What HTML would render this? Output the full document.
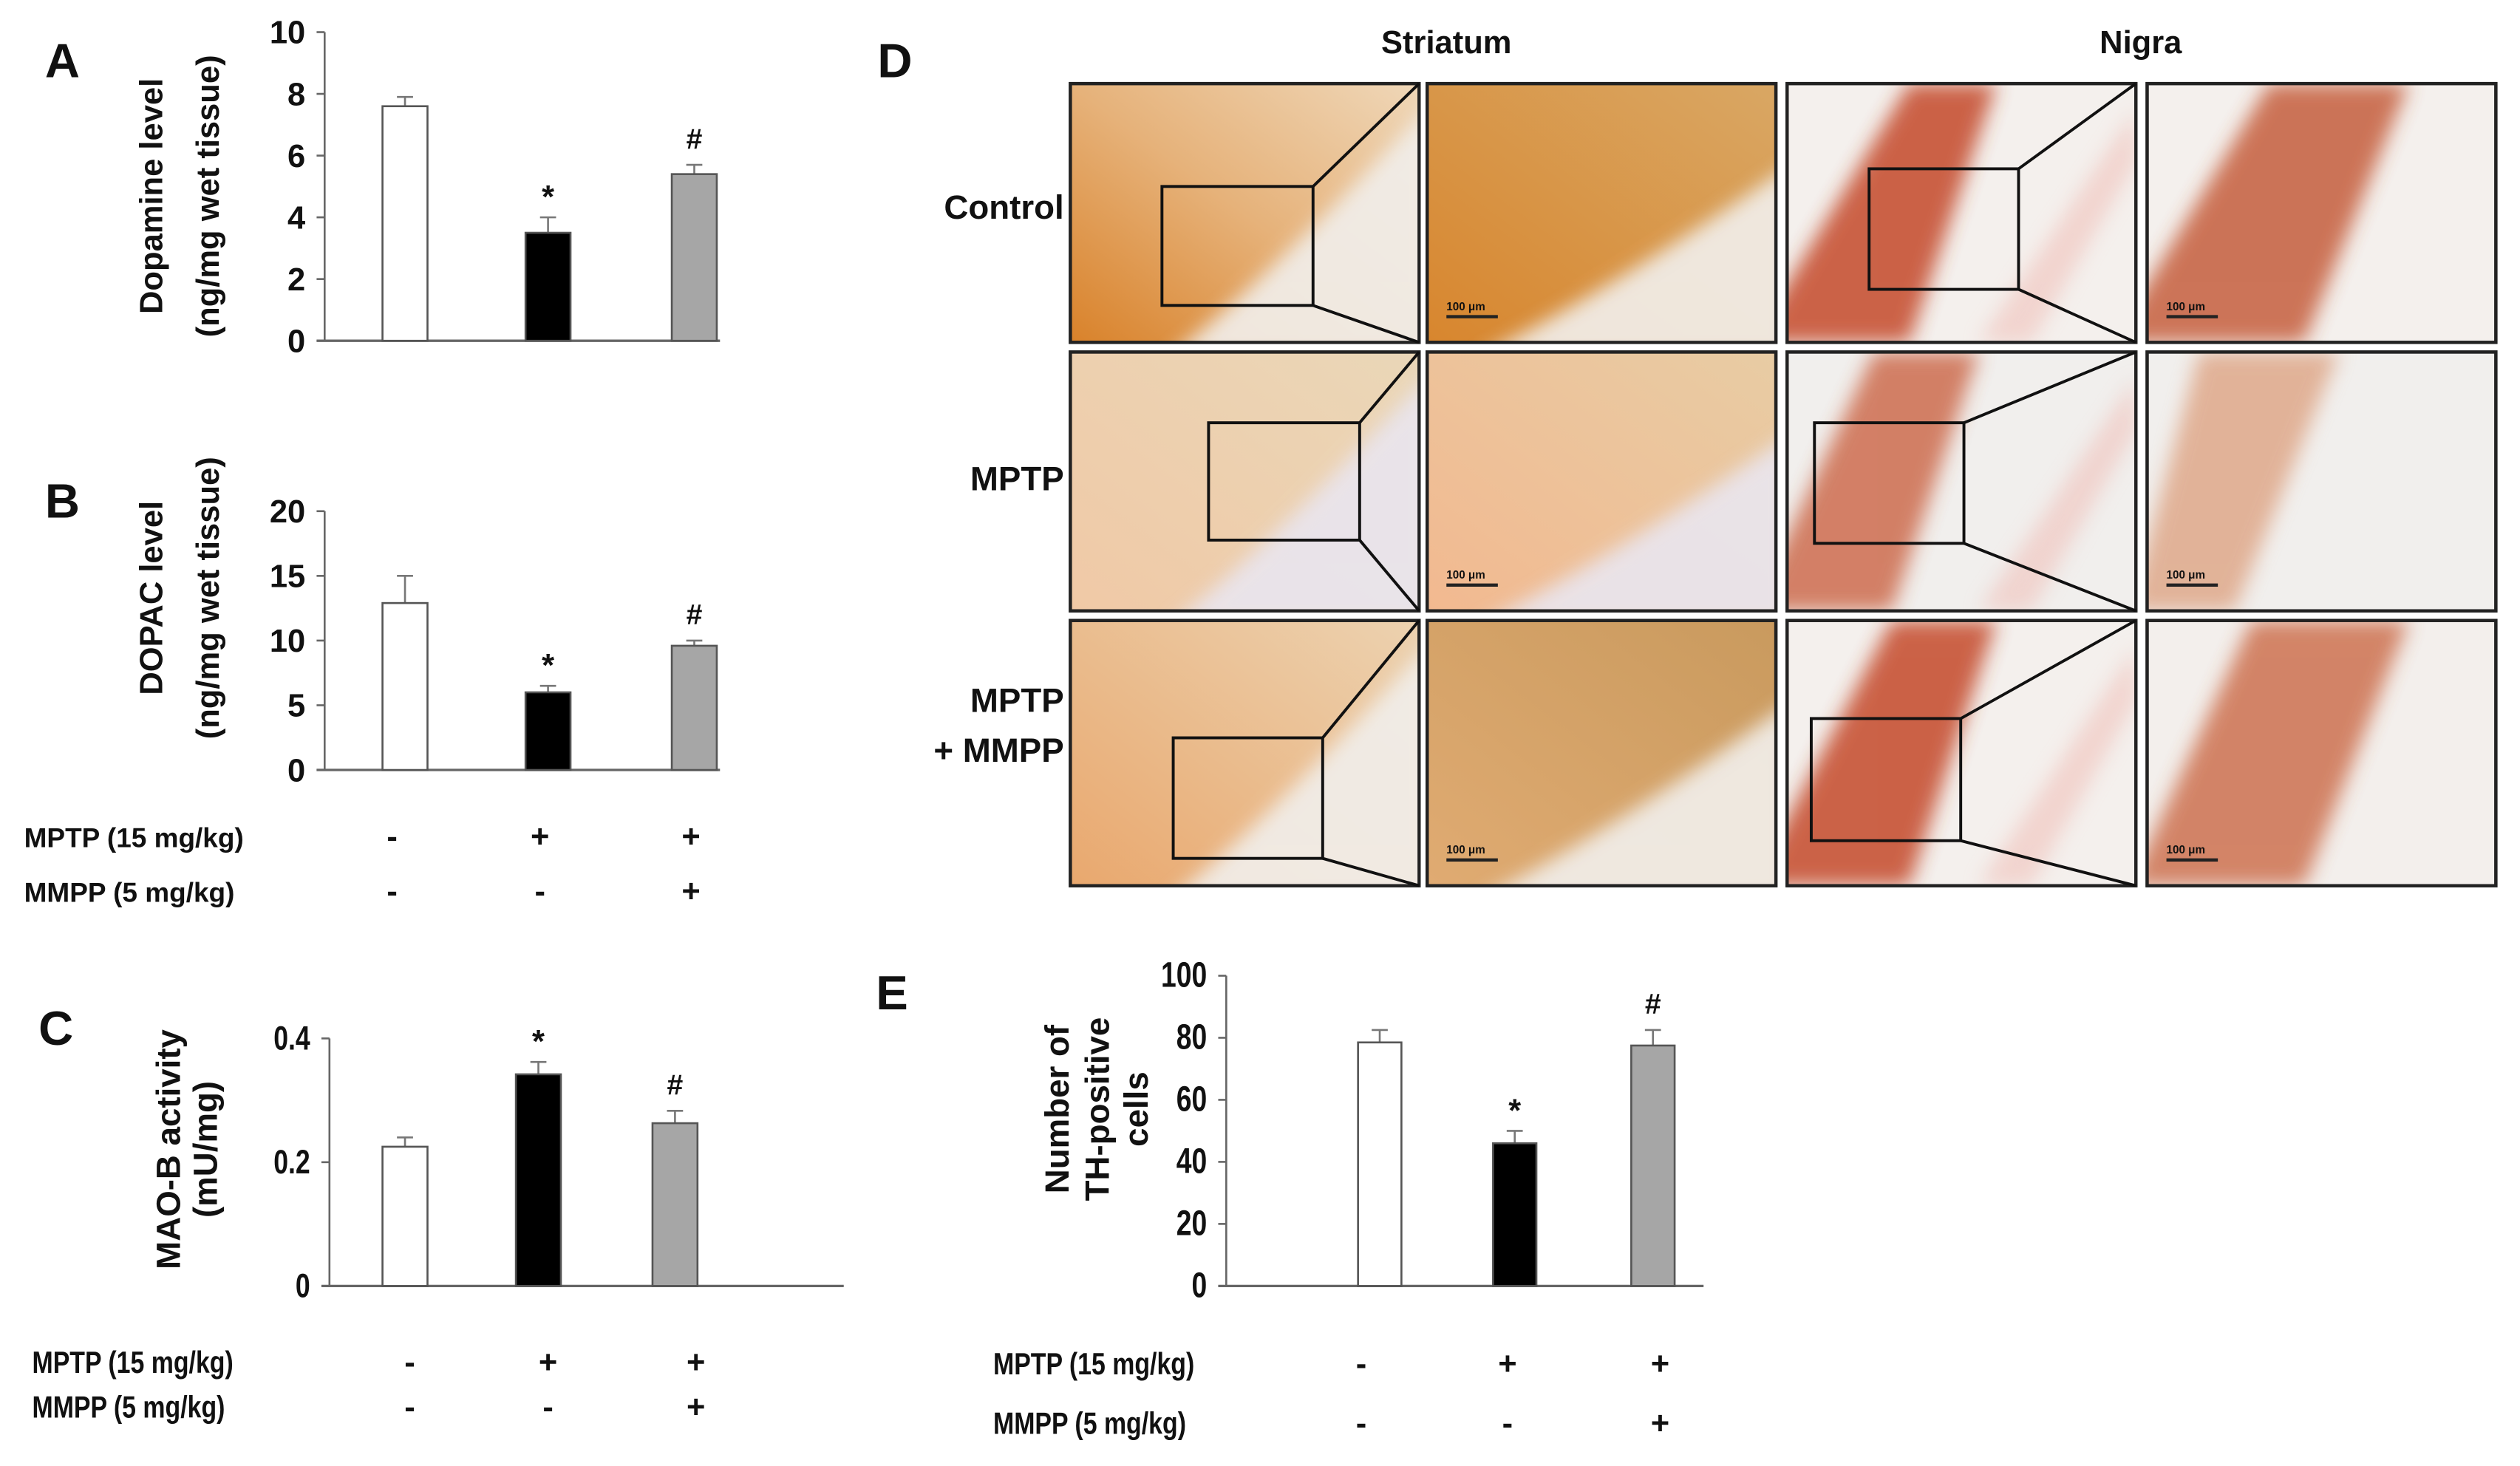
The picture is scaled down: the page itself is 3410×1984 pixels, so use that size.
<!DOCTYPE html>
<html><head><meta charset="utf-8">
<style>
html,body{margin:0;padding:0;background:#fff;}
svg{display:block;}
text{font-family:"Liberation Sans",sans-serif;font-weight:bold;fill:#111;}
</style></head>
<body>
<svg id="fig" width="3410" height="1984" viewBox="0 0 1568 912" preserveAspectRatio="none" xmlns="http://www.w3.org/2000/svg">
<defs>
<linearGradient id="stA" x1="0" y1="1" x2="1" y2="0"><stop offset="0" stop-color="#d9822a"/><stop offset="0.5" stop-color="#e6b27a"/><stop offset="1" stop-color="#efd7b8"/></linearGradient>
<linearGradient id="stB" x1="0" y1="1" x2="1" y2="0"><stop offset="0" stop-color="#d8862e"/><stop offset="1" stop-color="#d9a764"/></linearGradient>
<linearGradient id="stC" x1="0" y1="1" x2="1" y2="0"><stop offset="0" stop-color="#f0c9a6"/><stop offset="1" stop-color="#ead7b8"/></linearGradient>
<linearGradient id="stD" x1="0" y1="1" x2="1" y2="0"><stop offset="0" stop-color="#f2b990"/><stop offset="1" stop-color="#e8cca4"/></linearGradient>
<linearGradient id="stE" x1="0" y1="1" x2="1" y2="0"><stop offset="0" stop-color="#e9a86e"/><stop offset="1" stop-color="#ecd2b0"/></linearGradient>
<linearGradient id="stF" x1="0" y1="1" x2="1" y2="0"><stop offset="0" stop-color="#e0ab72"/><stop offset="1" stop-color="#c99a5e"/></linearGradient>
<filter id="soft"><feGaussianBlur stdDeviation="6"/></filter>
<clipPath id="clipAll"><rect x="0" y="0" width="1568" height="912"/></clipPath>
</defs>
<g id="charts"></g>
<g id="panelD"></g>
</svg>
<script>
// ---- Chart data ----
const groups = ["Control", "MPTP", "MPTP+MMPP"];
const mptpSigns = ["-", "+", "+"];
const mmppSigns = ["-", "-", "+"];
const dopamineValues = [7.6, 3.5, 5.4];
const dopamineErrors = [0.3, 0.5, 0.3];
const dopamineTicks = [0, 2, 4, 6, 8, 10];
const dopacValues = [12.9, 6.0, 9.6];
const dopacErrors = [2.1, 0.5, 0.4];
const dopacTicks = [0, 5, 10, 15, 20];
const maobValues = [0.225, 0.342, 0.263];
const maobErrors = [0.015, 0.02, 0.02];
const maobTicks = [0, 0.2, 0.4];
const thValues = [78.5, 46, 77.5];
const thErrors = [4, 4, 5];
const thTicks = [0, 20, 40, 60, 80, 100];
const annotA = ["", "*", "#"];
const annotC = ["", "*", "#"];

const NS = "http://www.w3.org/2000/svg";
const charts = document.getElementById("charts");
function el(tag, attrs, parent) {
  const e = document.createElementNS(NS, tag);
  for (const k in attrs) e.setAttribute(k, attrs[k]);
  (parent || charts).appendChild(e);
  return e;
}
const fills = ["#ffffff", "#000000", "#a6a6a6"];

function drawChart(cfg, values, errors, ticks, annot) {
  const g = el("g", {});
  
  
  const y = v => cfg.y0 - (v - cfg.min) / (cfg.max - cfg.min) * (cfg.y0 - cfg.yTop);
  const ax = el("line", {x1: cfg.ax, y1: cfg.yTop, x2: cfg.ax, y2: cfg.y0, stroke: "#666", "stroke-width": 1.2}, g);
  
  
  const xa = el("line", {x1: cfg.ax - 5, y1: cfg.y0, x2: cfg.axEnd, y2: cfg.y0, stroke: "#666", "stroke-width": 1.5}, g);
  
  
  ticks.forEach(t => {
    el("line", {x1: cfg.ax - 5, y1: y(t), x2: cfg.ax, y2: y(t), stroke: "#666", "stroke-width": 1.2}, g);
    const tl = el("text", {x: cfg.ax - 12, y: y(t) + 7, "text-anchor": "end", "font-size": cfg.tickFs, transform: cfg.narrow ? `translate(${cfg.ax - 12},0) scale(0.78,1) translate(${-(cfg.ax - 12)},0)` : ""}, g);
    tl.textContent = String(t);
    
    
  });
  values.forEach((v, i) => {
    const x0 = cfg.barX[i], w = cfg.barW;
    const cx = x0 + w / 2;
    const top = y(v + errors[i]);
    const eb = el("line", {x1: cx, y1: y(v), x2: cx, y2: top, stroke: "#777", "stroke-width": 1.2}, g);
    
    
    el("line", {x1: cx - 5, y1: top, x2: cx + 5, y2: top, stroke: "#777", "stroke-width": 1.2}, g);
    const r = el("rect", {x: x0, y: y(v), width: w, height: y(cfg.min) - y(v), fill: fills[i], stroke: "#555", "stroke-width": 1.2}, g);
    
    
    if (annot[i]) {
      const a = el("text", {x: cx, y: top - (annot[i] === "*" ? 6 : 10), "text-anchor": "middle", "font-size": annot[i] === "*" ? 20 : 18, "font-weight": "normal"}, g);
      a.textContent = annot[i];
      
      
    }
  });
  cfg.titles.forEach(tt => {
    const t = el("text", {x: 0, y: 0, "text-anchor": "middle", "font-size": cfg.titleFs, transform: `translate(${tt[1]},${cfg.titleY}) rotate(-90)`}, g);
    t.textContent = tt[0];
    
    
  });
  const pl = el("text", {x: cfg.label[0], y: cfg.label[1], "font-size": 30}, g);
  pl.textContent = cfg.label[2];
  
  
  return y;
}

function drawSigns(rows, signX, labelX, fs, narrow) {
  const labels = ["MPTP (15 mg/kg)", "MMPP (5 mg/kg)"];
  const signs = [mptpSigns, mmppSigns];
  rows.forEach((ry, r) => {
    const t = el("text", {x: labelX, y: ry + 7, "font-size": fs, transform: narrow ? `translate(${labelX},0) scale(0.82,1) translate(${-labelX},0)` : ""});
    t.textContent = labels[r];
    
    
    signs[r].forEach((s, i) => {
      const st = el("text", {x: signX[i], y: ry + 7, "text-anchor": "middle", "font-size": 20});
      st.textContent = s;
      
      
    });
  });
}

drawChart({name: "chart-dopamine", ax: 202, axEnd: 448, yTop: 20, y0: 212, min: 0, max: 10, barX: [238, 327, 418], barW: 28, tickFs: 20, titleFs: 20,
  titles: [["Dopamine level", 101], ["(ng/mg wet tissue)", 136]], titleY: 122, label: [28, 48, "A"]}, dopamineValues, dopamineErrors, dopamineTicks, annotA);
drawChart({name: "chart-dopac", ax: 202, axEnd: 448, yTop: 318, y0: 479, min: 0, max: 20, barX: [238, 327, 418], barW: 28, tickFs: 20, titleFs: 20,
  titles: [["DOPAC level", 101], ["(ng/mg wet tissue)", 136]], titleY: 372, label: [28, 322, "B"]}, dopacValues, dopacErrors, dopacTicks, annotA);
drawSigns([520, 554], [244, 336, 430], 15, 17, false);
drawChart({name: "chart-maob", ax: 205, axEnd: 525, yTop: 646, y0: 800, min: 0, max: 0.4, barX: [238, 321, 406], barW: 28, tickFs: 21, titleFs: 21, narrow: true,
  titles: [["MAO-B activity", 112], ["(mU/mg)", 135]], titleY: 715, label: [24, 650, "C"]}, maobValues, maobErrors, maobTicks, annotC);
drawSigns([847, 875], [255, 341, 433], 20, 19, true);
drawChart({name: "chart-th-cells", ax: 763, axEnd: 1060, yTop: 607, y0: 800, min: 0, max: 100, barX: [845, 929, 1015], barW: 27, tickFs: 22, titleFs: 21, narrow: true,
  titles: [["Number of", 665], ["TH-positive", 690], ["cells", 714]], titleY: 690, label: [545, 628, "E"]}, thValues, thErrors, thTicks, annotC);
drawSigns([848, 885], [847, 938, 1033], 618, 19, true);

// ---- Panel D (histology images) ----
const D = document.getElementById("panelD");
const colX = [666, 888, 1112, 1336];
const colW = 217;
const rowY = [52, 219, 386];
const rowH = [161, 161, 165];
const imgFill = [["url(#stA)", "url(#stB)", "#f4f0ed", "#f4f0ed"],
                 ["url(#stC)", "url(#stD)", "#f1efed", "#f1efed"],
                 ["url(#stE)", "url(#stF)", "#f4f0ed", "#f3efec"]];
// nigra stained band: [bottom-left x0, bottom x1, top x0, top x1] as fractions of width, colour, opacity
const bands = [[null, null, [-0.1, 0.35, 0.35, 0.6, "#c44a2a", 0.85], [-0.1, 0.45, 0.35, 0.75, "#c25530", 0.8]],
               [null, null, [-0.1, 0.3, 0.25, 0.55, "#c85a38", 0.75], [-0.05, 0.25, 0.15, 0.55, "#d78a60", 0.6]],
               [null, null, [-0.1, 0.35, 0.3, 0.6, "#c44a2a", 0.85], [-0.05, 0.45, 0.3, 0.75, "#c8603a", 0.75]]];
const insets = [[[723, 116, 94, 74], [1163, 105, 93, 75]],
                [[752, 263, 94, 73], [1129, 263, 93, 75]],
                [[730, 459, 93, 75], [1127, 447, 93, 76]]];
const rowLabels = [["Control"], ["MPTP"], ["MPTP", "+ MMPP"]];
const rowLabelY = [[136], [305], [443, 474]];
function del(tag, attrs) { return el(tag, attrs, D); }
const dl = del("text", {x: 546, y: 48, "font-size": 30});
dl.textContent = "D";


[["Striatum", 900], ["Nigra", 1332]].forEach(h => {
  const t = del("text", {x: h[1], y: 33, "text-anchor": "middle", "font-size": 20});
  t.textContent = h[0];
  
  
});
rowY.forEach((ry, r) => {
  rowLabels[r].forEach((s, k) => {
    const t = del("text", {x: 662, y: rowLabelY[r][k], "text-anchor": "end", "font-size": 21});
    t.textContent = s;
    
    
  });
  colX.forEach((cx, c) => {
    const h = rowH[r];
    const im = del("rect", {x: cx, y: ry, width: colW, height: h, fill: imgFill[r][c], stroke: "#222", "stroke-width": 2});
    
    
    const cid = "clip" + r + c;
    const cp = del("clipPath", {id: cid});
    el("rect", {x: cx, y: ry, width: colW, height: h}, cp);
    const gg = del("g", {"clip-path": `url(#${cid})`});
    if (c === 0 || c === 1) {
      el("path", {d: `M${cx + colW + 10} ${ry + (c === 0 ? 10 : 50)} Q${cx + colW * 0.55} ${ry + h * 0.78} ${cx + (c === 0 ? 60 : 30)} ${ry + h + 10} L${cx + colW + 10} ${ry + h + 10} Z`, fill: r === 1 ? "#e9e5ee" : "#f1eeea", opacity: 0.92, filter: "url(#soft)"}, gg);
    } else {
      const b = bands[r][c];
      el("path", {d: `M${cx + b[0] * colW} ${ry + h} L${cx + b[1] * colW} ${ry + h} L${cx + b[3] * colW} ${ry} L${cx + b[2] * colW} ${ry} Z`, fill: b[4], opacity: b[5], filter: "url(#soft)"}, gg);
      if (c === 2) {
        el("path", {d: `M${cx + colW * 0.55} ${ry + h} L${cx + colW * 0.7} ${ry + h} L${cx + colW} ${ry + h * 0.3} L${cx + colW} ${ry + h * 0.1} Z`, fill: "#f0b8b0", opacity: 0.5, filter: "url(#soft)"}, gg);
      }
    }
    if (c === 1 || c === 3) {
      const sb = del("line", {x1: cx + 12, y1: ry + h - 16, x2: cx + 44, y2: ry + h - 16, stroke: "#222", "stroke-width": 2});
      
      
      const st = del("text", {x: cx + 12, y: ry + h - 20, "font-size": 7, "font-weight": "normal"});
      st.textContent = "100 μm";
    }
    del("rect", {x: cx, y: ry, width: colW, height: h, fill: "none", stroke: "#222", "stroke-width": 2});
  });
  insets[r].forEach((b, k) => {
    const cx = colX[k * 2];
    const ib = del("rect", {x: b[0], y: b[1], width: b[2], height: b[3], fill: "none", stroke: "#111", "stroke-width": 1.8});
    
    
    del("line", {x1: b[0] + b[2], y1: b[1], x2: cx + colW, y2: ry, stroke: "#111", "stroke-width": 1.8});
    del("line", {x1: b[0] + b[2], y1: b[1] + b[3], x2: cx + colW, y2: ry + rowH[r], stroke: "#111", "stroke-width": 1.8});
  });
});
</script>
</body></html>
